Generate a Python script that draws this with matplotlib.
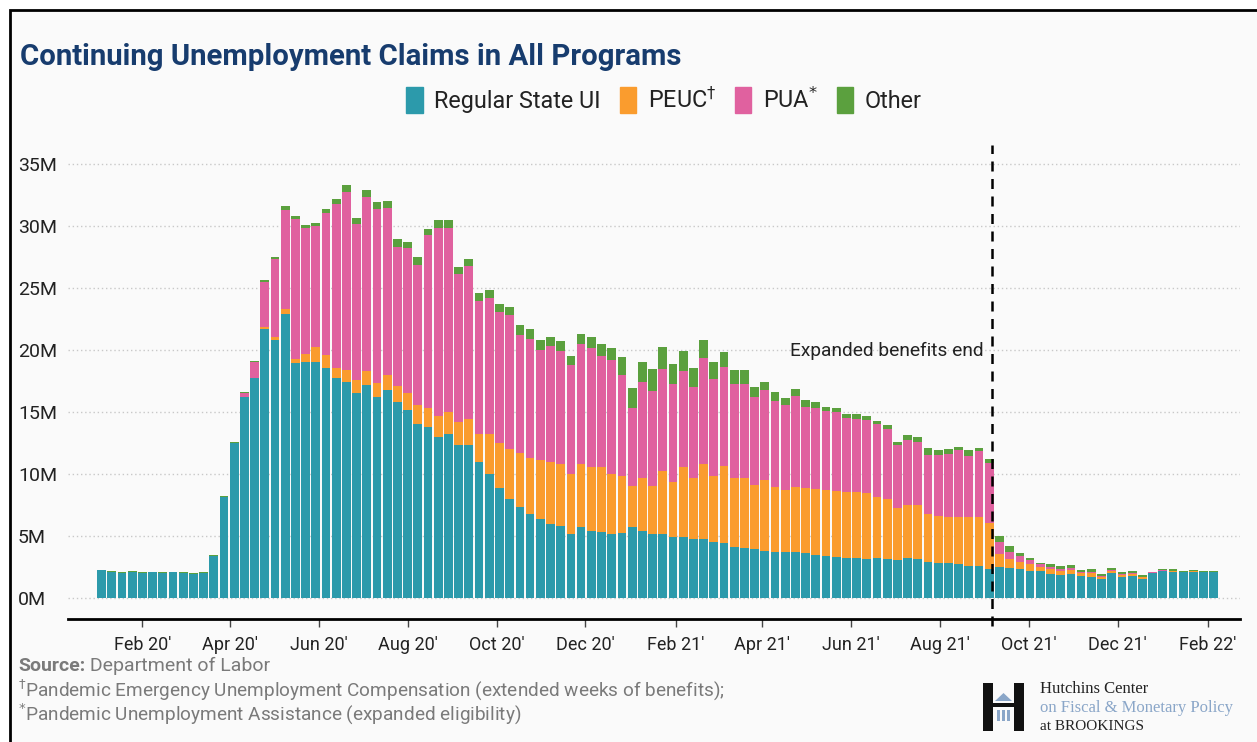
import matplotlib.pyplot as plt
import matplotlib.dates as mdates
import matplotlib.patches as mpatches
import numpy as np
import pandas as pd

plt.rcParams['font.family'] = ['Roboto', 'DejaVu Sans']

# weekly continuing claims by program, millions (weeks from 2020-01-04)
first_week = '2020-01-04'
regular = [2.23, 2.10, 2.02, 2.13, 2.02, 2.07, 2.02, 2.07, 2.02, 1.95, 2.05, 3.40,
           8.15, 12.45, 16.20, 17.74, 21.64, 20.80, 22.90,
           18.95, 19.03, 19.03, 18.55, 17.74, 17.42, 16.53, 17.20, 16.21, 16.75, 15.78, 15.13, 14.06, 13.76, 12.98, 13.23, 12.31, 12.31,
           10.94, 10.00, 8.84, 8.01, 7.37, 6.77, 6.37, 5.97, 5.83, 5.16, 5.75, 5.40, 5.35, 5.16, 5.27, 5.70, 5.43, 5.16, 5.16,
           4.95, 4.89, 4.78, 4.76, 4.49, 4.41, 4.14, 4.01, 3.92, 3.82, 3.74, 3.68, 3.68, 3.60, 3.47, 3.41, 3.28, 3.20,
           3.20, 3.15, 3.20, 3.15, 3.06, 3.20, 3.15, 2.88, 2.80, 2.80, 2.74, 2.60, 2.60, 2.31,
           2.47, 2.39, 2.34, 2.20, 2.18,
           1.94, 1.85, 1.94, 1.77, 1.72, 1.53, 1.99, 1.67, 1.77, 1.56, 2.02, 2.15, 2.12, 2.07, 2.10, 2.07, 2.07]
peuc = [0] * 16 + [0.20, 0.25, 0.38,
        0.32, 0.65, 1.16, 1.02, 0.81, 0.99, 1.02, 1.13, 1.13, 1.21, 1.29, 1.40, 1.53, 1.56, 1.67, 1.77, 1.88, 2.15,
        2.28, 3.23, 3.63, 4.01, 4.30, 4.49, 4.76, 4.97, 4.95, 4.84, 5.03, 5.16, 5.19, 4.84, 4.60, 3.33, 4.22, 3.87, 5.11,
        4.38, 5.70, 4.92, 6.05, 5.35, 6.26, 5.56, 5.70, 5.19, 5.65, 5.24, 5.03, 5.30, 5.24, 5.32, 5.30, 5.35, 5.38,
        5.38, 5.35, 4.97, 4.81, 4.17, 4.30, 4.35, 3.90, 3.82, 3.76, 3.82, 3.90, 3.90, 3.71,
        1.05, 0.73, 0.59, 0.54, 0.30,
        0.38, 0.32, 0.32, 0.25, 0.30, 0.18, 0.20, 0.20, 0.15, 0.10, 0.03, 0.05, 0.05, 0.04, 0.04, 0.03, 0.03]
pua = [0] * 14 + [0.30, 1.25, 3.60, 6.30, 7.96,
       11.29, 10.16, 9.81, 11.42, 13.23, 14.33, 12.61, 14.00, 13.98, 13.44, 11.24, 11.64, 11.24, 13.90, 15.19, 14.84, 11.91, 12.26,
       10.75, 10.97, 10.54, 10.81, 9.49, 9.62, 8.82, 9.38, 9.09, 8.79, 9.68, 9.57, 8.98, 9.14, 8.06, 6.26, 7.74, 7.63, 8.15,
       7.93, 7.72, 7.34, 8.52, 7.80, 7.98, 7.55, 7.55, 7.12, 7.31, 6.91, 6.85, 7.31, 6.53, 6.51, 6.37, 6.34, 5.91,
       5.86, 5.86, 5.83, 5.65, 5.11, 5.24, 5.11, 4.76, 4.87, 5.03, 5.38, 4.95, 5.38, 4.89,
       1.02, 0.62, 0.46, 0.32, 0.24,
       0.20, 0.15, 0.15, 0.08, 0.10, 0.07, 0.07, 0.06, 0.07, 0.05, 0.02, 0.03, 0.03, 0.02, 0.02, 0.02, 0.02]
other = [0.05] * 12 + [0.10, 0.13, 0.10, 0.10, 0.16, 0.16, 0.32,
         0.22, 0.19, 0.19, 0.38, 0.35, 0.51, 0.43, 0.56, 0.59, 0.59, 0.65, 0.51, 0.65, 0.48, 0.59, 0.59, 0.54, 0.56,
         0.59, 0.65, 0.70, 0.62, 0.81, 0.81, 0.81, 0.75, 0.86, 0.75, 0.83, 0.89, 0.94, 1.02, 1.45, 1.61, 1.61, 1.80, 1.80,
         1.61, 1.56, 1.53, 1.48, 1.34, 1.21, 1.13, 1.13, 0.75, 0.59, 0.67, 0.54, 0.54, 0.59, 0.48, 0.35, 0.38, 0.32,
         0.40, 0.32, 0.27, 0.30, 0.27, 0.40, 0.35, 0.54, 0.40, 0.40, 0.22, 0.48, 0.22, 0.32,
         0.48, 0.46, 0.27, 0.19, 0.13,
         0.19, 0.27, 0.22, 0.16, 0.19, 0.16, 0.19, 0.19, 0.19, 0.17, 0.05, 0.08, 0.11, 0.07, 0.07, 0.06, 0.03]

series = [('Regular State UI', regular, '#2c9aab'),
          ('PEUC$^{\\dagger}$', peuc, '#fa9c2e'),
          ('PUA$^{*}$', pua, '#e0619f'),
          ('Other', other, '#5ba03e')]
benefits_end = pd.Timestamp('2021-09-06')

weeks = pd.date_range(first_week, periods=len(regular), freq='7D')

W, H = 1257, 742
fig = plt.figure(figsize=(W / 100, H / 100), dpi=100, facecolor='white')

# panel background with border on top/left
fig.add_artist(mpatches.Rectangle((10 / W, -0.05), 1.1, 1.05 - 10 / H, transform=fig.transFigure,
                                  facecolor='#fafafa', edgecolor='black', lw=2, zorder=-10))

ax = fig.add_axes([68 / W, 1 - 619 / H, (1240 - 68) / W, (619 - 145) / H])
ax.set_facecolor('none')

bottom = np.zeros(len(weeks))
handles = []
for name, vals, col in series:
    vals = np.array(vals)
    ax.bar(weeks, vals, bottom=bottom, width=6, color=col, linewidth=0, zorder=3)
    bottom += vals
    handles.append(mpatches.Patch(color=col, label=name))

ax.set_xlim(pd.Timestamp('2019-12-12'), pd.Timestamp('2022-02-23'))
ax.set_ylim(-1.69, 36.5)

ax.set_yticks(range(0, 36, 5))
ax.set_yticklabels([f'{v}M' for v in range(0, 36, 5)])
ax.tick_params(axis='y', length=0, pad=36, labelsize=14, labelcolor='#222222')
for lbl in ax.get_yticklabels():
    lbl.set_horizontalalignment('left')
ax.grid(axis='y', color='#c8c8c8', linestyle=(0, (1, 2)), linewidth=1, zorder=0)

ax.xaxis.set_major_locator(mdates.MonthLocator(bymonth=[2, 4, 6, 8, 10, 12]))
ax.xaxis.set_major_formatter(mdates.DateFormatter("%b %y'"))
ax.tick_params(axis='x', length=6, width=1, color='#444444', pad=6, labelsize=13, labelcolor='#222222')

for s in ['left', 'right', 'top']:
    ax.spines[s].set_visible(False)
ax.spines['bottom'].set_linewidth(2)
ax.spines['bottom'].set_color('black')

ax.axvline(benefits_end, ymin=-0.015, ymax=1, color='black', linestyle=(0, (4, 3)),
           linewidth=1.8, zorder=5, clip_on=False)
ax.text(benefits_end - pd.Timedelta(days=6), 19.9, 'Expanded benefits end', ha='right', va='center',
        fontsize=13.8, color='#222222')

fig.text(20 / W, 1 - 57 / H, 'Continuing Unemployment Claims in All Programs', fontsize=21.2,
         fontweight='bold', color='#173c6e', va='center', ha='left')

fig.legend(handles=handles, loc='center', bbox_to_anchor=(664 / W, 1 - 100 / H), ncol=4, frameon=False,
           fontsize=16.8, handlelength=0.7, handleheight=1.3, handletextpad=0.5, columnspacing=0.8,
           labelcolor='#222222')

# source and notes
src = fig.text(18 / W, 1 - 666 / H, 'Source:', fontsize=14, fontweight='bold', color='#7a7a7a', va='center')
ax.annotate(' Department of Labor', xy=(1, 0.5), xycoords=src, va='center', ha='left',
            fontsize=14, color='#7a7a7a', annotation_clip=False)
fig.text(18 / W, 1 - 690 / H, '$^{\\dagger}$Pandemic Emergency Unemployment Compensation (extended weeks of benefits);',
         fontsize=13.7, color='#7a7a7a', va='center')
fig.text(18 / W, 1 - 714 / H, '$^{*}$Pandemic Unemployment Assistance (expanded eligibility)',
         fontsize=13.7, color='#7a7a7a', va='center')


def px_rect(x, y, w, h, col):
    fig.add_artist(mpatches.Rectangle((x / W, 1 - (y + h) / H), w / W, h / H, color=col,
                                      transform=fig.transFigure, lw=0))


# Hutchins Center mark
px_rect(983, 683, 10, 48, '#111111')
px_rect(1014, 683, 10, 48, '#111111')
px_rect(993, 703, 21, 4, '#111111')
fig.add_artist(mpatches.Polygon([(995 / W, 1 - 701 / H), (1012 / W, 1 - 701 / H), (1003.5 / W, 1 - 693 / H)],
                                closed=True, color='#8aa6c8', transform=fig.transFigure, lw=0))
for cx in (997, 1002, 1007):
    px_rect(cx, 710, 3, 11, '#8aa6c8')

serif = ['Liberation Serif', 'DejaVu Serif']
fig.text(1040 / W, 1 - 689 / H, 'Hutchins Center', family=serif, fontsize=12, color='#222222', va='center')
fig.text(1040 / W, 1 - 708 / H, 'on Fiscal & Monetary Policy', family=serif, fontsize=12, color='#8aa6c8',
         va='center')
fig.text(1040 / W, 1 - 727 / H, 'at BROOKINGS', family=serif, fontsize=11, color='#222222', va='center')

fig.savefig('out.png', dpi=100, facecolor=fig.get_facecolor())
